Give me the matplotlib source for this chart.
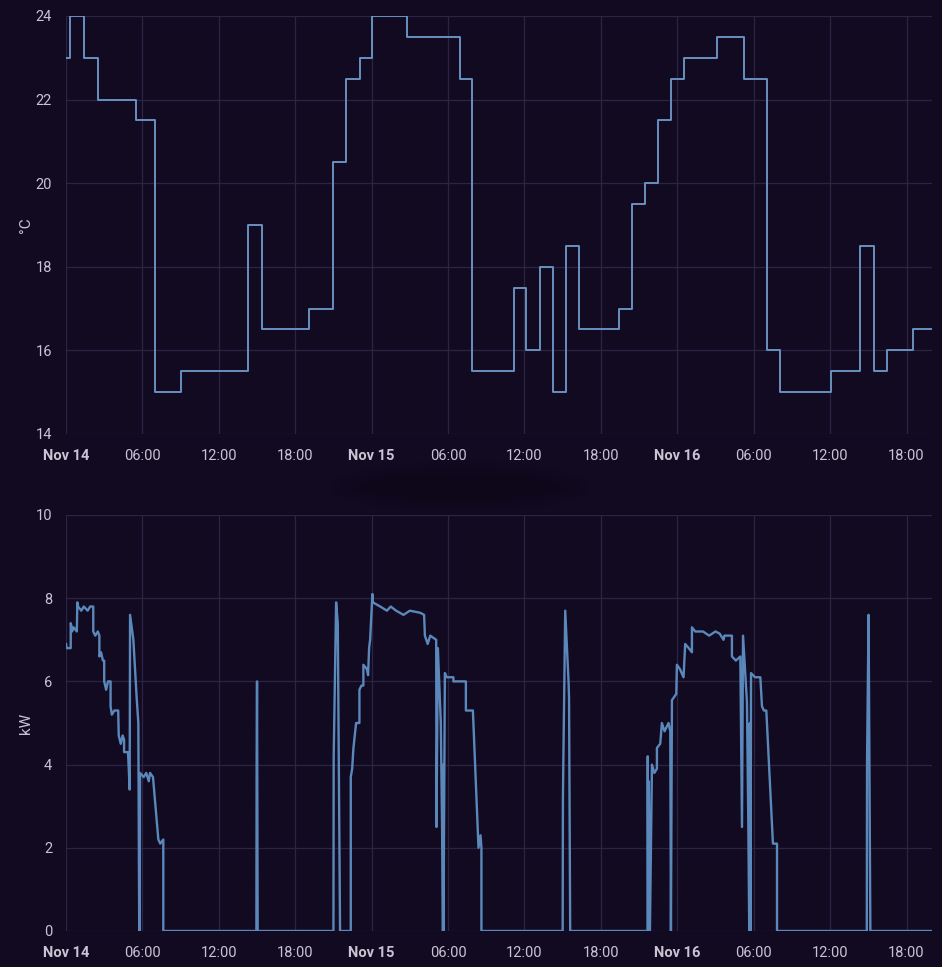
import matplotlib.pyplot as plt
from matplotlib.patches import Ellipse

# thermostat setpoint (hours since Nov 14 00:00, deg C), step changes
temp_h = [0, 0.33, 1.45, 2.5, 5.5, 7.0, 9.05, 14.3, 15.4, 19.05, 21.0, 22.0,
          23.05, 24.05, 26.75, 30.95, 31.9, 35.15, 36.15, 37.25, 38.25, 39.3,
          40.3, 43.45, 44.45, 45.45, 46.45, 47.5, 48.5, 51.15, 53.2, 55.05,
          56.1, 60.1, 62.35, 63.45, 64.45, 66.5, 68.0]
temp_c = [23, 24, 23, 22, 21.5, 15, 15.5, 19, 16.5, 17, 20.5, 22.5,
          23, 24, 23.5, 22.5, 15.5, 17.5, 16, 18, 15, 18.5,
          16.5, 17, 19.5, 20, 21.5, 22.5, 23, 23.5, 22.5, 16,
          15, 15.5, 18.5, 15.5, 16, 16.5, 16.5]

# heat pump power (hours since Nov 14 00:00, kW)
power_h = [0.00, 0.05, 0.37, 0.37, 0.45, 0.47, 0.60, 0.85, 0.89, 0.95, 1.20, 1.40,
           1.70, 1.90, 2.14, 2.14, 2.30, 2.50, 2.62, 2.62, 2.75, 2.90, 3.00, 3.00,
           3.15, 3.30, 3.50, 3.50, 3.60, 3.80, 4.10, 4.14, 4.30, 4.45, 4.56, 4.56,
           4.87, 5.00, 5.03, 5.29, 5.55, 5.68, 5.72, 5.75, 5.77, 5.79, 5.81, 6.10,
           6.30, 6.50, 6.60, 6.83, 7.25, 7.40, 7.64, 7.64, 14.95, 14.97, 15.00, 15.05,
           21.00, 21.02, 21.21, 21.34, 21.52, 22.36, 22.36, 22.47, 22.57, 22.78, 23.04, 23.04,
           23.20, 23.35, 23.35, 23.62, 23.72, 23.80, 23.88, 24.06, 24.10, 24.67, 25.20, 25.50,
           25.92, 26.50, 27.00, 27.81, 28.12, 28.18, 28.40, 28.60, 29.07, 29.09, 29.20, 29.43,
           29.55, 29.60, 29.62, 29.64, 29.75, 29.90, 30.42, 30.42, 31.40, 31.40, 31.95, 32.39,
           32.55, 32.62, 32.62, 39.00, 39.02, 39.05, 39.20, 39.46, 39.50, 39.59, 45.66, 45.68,
           45.72, 45.76, 45.85, 46.01, 46.20, 46.40, 46.40, 46.66, 46.79, 47.00, 47.31, 47.45,
           47.50, 47.58, 47.92, 47.97, 48.20, 48.49, 48.62, 48.90, 49.15, 49.15, 49.41, 50.02,
           50.50, 51.00, 51.32, 51.63, 51.70, 52.29, 52.29, 52.60, 52.95, 53.08, 53.16, 53.47,
           53.58, 53.65, 53.70, 53.75, 53.79, 54.10, 54.52, 54.65, 54.80, 54.99, 55.51, 55.83,
           55.83, 62.88, 62.90, 63.02, 63.16, 68.00]
power_kw = [6.9, 6.8, 6.8, 7.4, 7.3, 7.2, 7.3, 7.2, 7.9, 7.8, 7.7, 7.8,
            7.7, 7.8, 7.8, 7.2, 7.1, 7.2, 7.1, 6.6, 6.7, 6.5, 6.5, 6.0,
            5.8, 6.0, 6.0, 5.4, 5.2, 5.3, 5.3, 4.7, 4.5, 4.7, 4.6, 4.3,
            4.3, 3.4, 7.6, 7.0, 5.6, 5.0, 2.0, 0.0, 3.7, 0.0, 3.8, 3.7,
            3.8, 3.6, 3.8, 3.7, 2.2, 2.1, 2.2, 0.0, 0.0, 4.1, 6.0, 0.0,
            0.0, 4.2, 7.9, 7.4, 0.0, 0.0, 3.7, 3.9, 4.4, 5.0, 5.0, 5.8,
            5.9, 5.9, 6.4, 6.3, 6.15, 6.8, 7.0, 8.1, 7.9, 7.8, 7.7, 7.8,
            7.7, 7.6, 7.7, 7.65, 7.6, 7.1, 6.9, 7.1, 7.0, 2.5, 6.8, 5.0,
            2.0, 0.0, 4.0, 0.0, 6.2, 6.1, 6.1, 6.0, 6.0, 5.3, 5.3, 2.0,
            2.3, 2.0, 0.0, 0.0, 3.2, 4.0, 7.7, 6.0, 5.6, 0.0, 0.0, 4.2,
            0.0, 3.6, 0.0, 4.0, 3.8, 3.9, 4.4, 4.5, 5.0, 4.8, 5.0, 4.8,
            0.0, 5.55, 5.7, 6.4, 6.3, 6.1, 6.9, 6.8, 6.7, 7.3, 7.2, 7.2,
            7.1, 7.2, 7.15, 7.0, 7.1, 7.1, 6.6, 6.5, 6.6, 2.5, 7.1, 5.5,
            2.5, 0.0, 5.0, 0.0, 6.2, 6.1, 6.1, 5.4, 5.3, 5.3, 2.1, 2.1,
            0.0, 0.0, 4.1, 7.6, 0.0, 0.0]

x_ticks = [0, 6, 12, 18, 24, 30, 36, 42, 48, 54, 60, 66]
x_labels = ["Nov 14", "06:00", "12:00", "18:00", "Nov 15", "06:00",
            "12:00", "18:00", "Nov 16", "06:00", "12:00", "18:00"]
temp_ticks = [14, 16, 18, 20, 22, 24]
power_ticks = [0, 2, 4, 6, 8, 10]

bg = "#120a21"
grid_c = "#2c2443"
text_c = "#c9c4d3"
line_c = "#6990c0"

plt.rcParams['font.family'] = ['Roboto', 'DejaVu Sans']

fig = plt.figure(figsize=(9.42, 9.67), dpi=100, facecolor=bg)
ax1 = fig.add_axes([66/942, 1-434/967, 866/942, 418/967])
ax2 = fig.add_axes([66/942, 1-931/967, 866/942, 416/967])


def style(ax, yticks, ylabel):
    ax.set_facecolor(bg)
    for s in ax.spines.values():
        s.set_visible(False)
    ax.set_xlim(0, 68)
    ax.set_ylim(yticks[0], yticks[-1])
    ax.set_xticks(x_ticks)
    ax.set_xticklabels(x_labels)
    ax.set_yticks(yticks)
    ax.tick_params(length=0, labelsize=10.5, colors=text_c)
    ax.tick_params(axis='x', pad=11)
    ax.tick_params(axis='y', pad=10)
    for lbl in ax.get_xticklabels():
        if lbl.get_text().startswith("Nov"):
            lbl.set_fontweight('bold')
    ax.grid(True, color=grid_c, linewidth=0.9)
    ax.set_axisbelow(True)
    ax.set_ylabel(ylabel, color=text_c, fontsize=11, labelpad=2)


style(ax1, temp_ticks, "°C")
style(ax2, power_ticks, "kW")

ax1.plot(temp_h, temp_c, drawstyle='steps-post', color=line_c, lw=1.4)
ax2.plot(power_h, power_kw, color="#5b88bb", lw=1.7)

# faint blurred shadow between the charts
for w, h, a in [(260, 52, 0.03), (240, 44, 0.04), (220, 34, 0.05), (200, 24, 0.05)]:
    fig.patches.append(Ellipse((460/942, 1-487/967), w/942, h/967,
                               transform=fig.transFigure, color="black",
                               alpha=a, lw=0))

fig.savefig("out.png", dpi=100, facecolor=bg)
